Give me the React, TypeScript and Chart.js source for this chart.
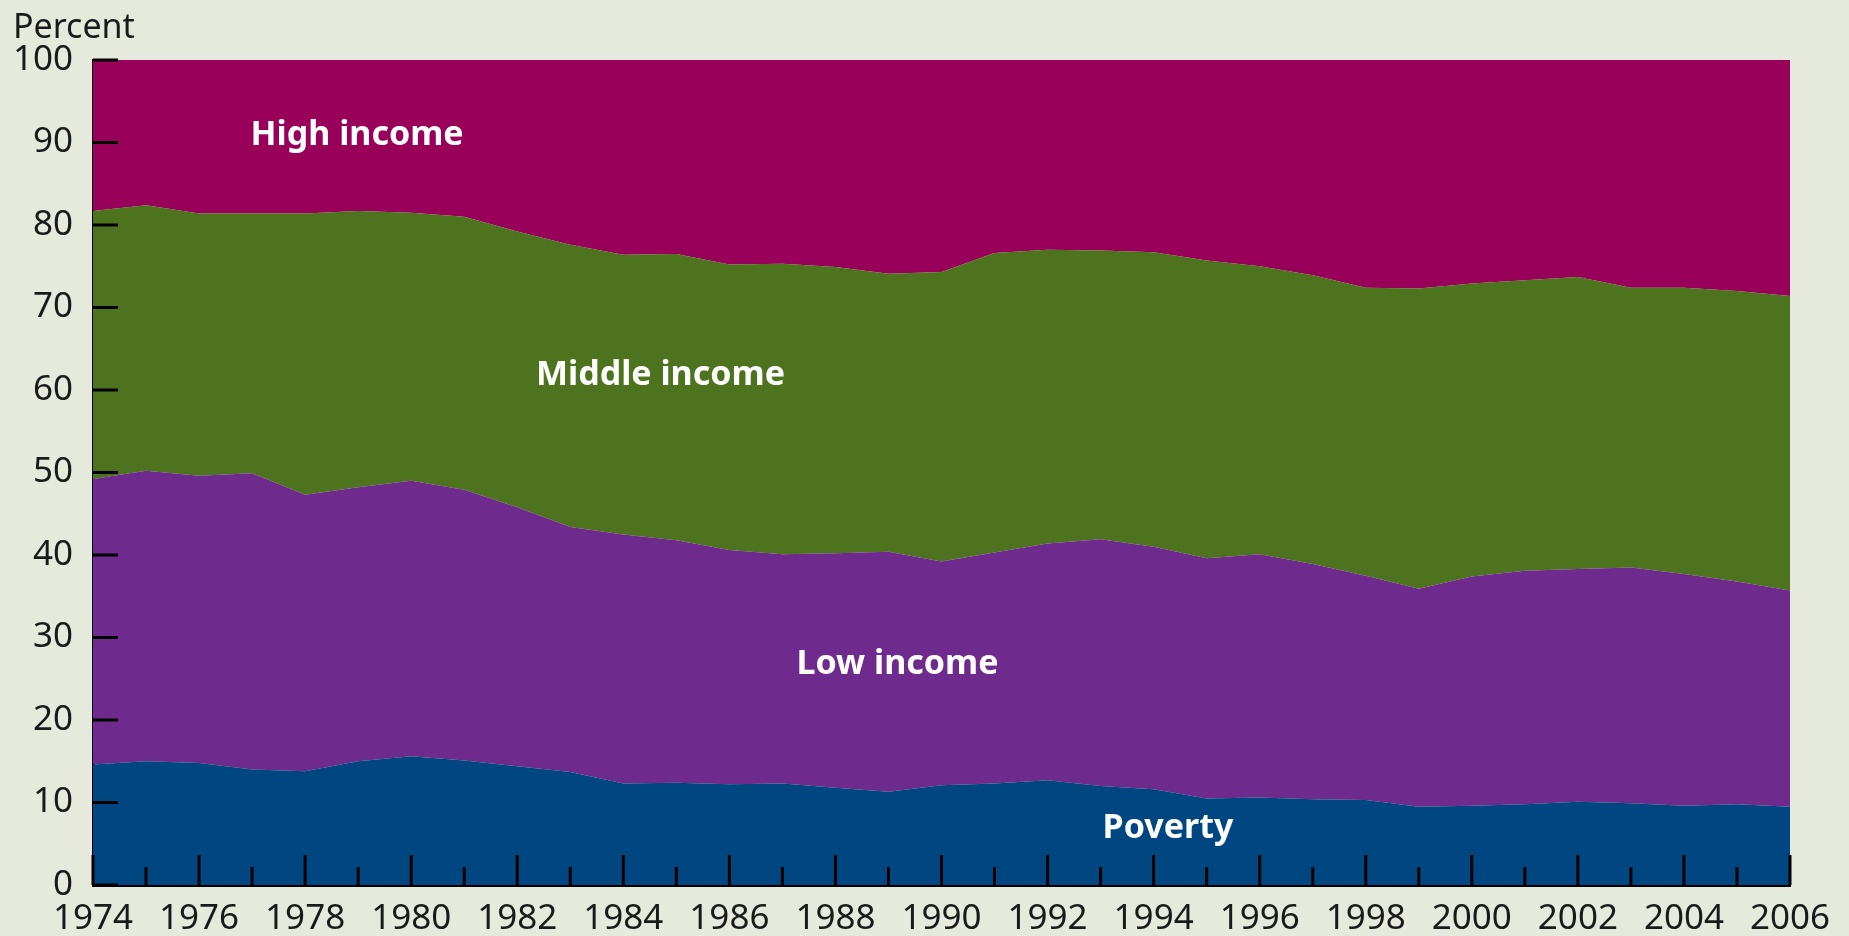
import React, { useEffect, useRef } from "react";
import { Chart, registerables } from "chart.js";

Chart.register(...registerables);

const years = [
  "1974", "1975", "1976", "1977", "1978", "1979", "1980", "1981", "1982", "1983",
  "1984", "1985", "1986", "1987", "1988", "1989", "1990", "1991", "1992", "1993",
  "1994", "1995", "1996", "1997", "1998", "1999", "2000", "2001", "2002", "2003",
  "2004", "2005", "2006",
];

// Share of population (percent) in each income group, by year
const poverty = [
  14.6, 15.0, 14.8, 14.0, 13.8, 15.0, 15.6, 15.1, 14.4, 13.7,
  12.3, 12.4, 12.2, 12.3, 11.8, 11.3, 12.1, 12.3, 12.7, 12.0,
  11.6, 10.5, 10.6, 10.4, 10.3, 9.5, 9.6, 9.8, 10.1, 9.9,
  9.6, 9.8, 9.5,
];
const lowIncome = [
  34.6, 35.2, 34.8, 35.9, 33.5, 33.2, 33.4, 32.8, 31.4, 29.7,
  30.2, 29.4, 28.4, 27.8, 28.4, 29.1, 27.1, 28.0, 28.7, 29.9,
  29.4, 29.1, 29.5, 28.5, 27.2, 26.4, 27.8, 28.3, 28.2, 28.6,
  28.1, 27.0, 26.2,
];
const middleIncome = [
  32.5, 32.2, 31.8, 31.5, 34.1, 33.5, 32.5, 33.1, 33.4, 34.2,
  33.9, 34.7, 34.6, 35.2, 34.7, 33.7, 35.1, 36.3, 35.6, 35.0,
  35.7, 36.1, 34.9, 35.0, 34.9, 36.4, 35.5, 35.2, 35.4, 33.9,
  34.7, 35.2, 35.7,
];
const highIncome = [
  18.3, 17.6, 18.6, 18.6, 18.6, 18.3, 18.5, 19.0, 20.8, 22.4,
  23.6, 23.5, 24.8, 24.7, 25.1, 25.9, 25.7, 23.4, 23.0, 23.1,
  23.3, 24.3, 25.0, 26.1, 27.6, 27.7, 27.1, 26.7, 26.3, 27.6,
  27.6, 28.0, 28.6,
];

const yTicks = [0, 10, 20, 30, 40, 50, 60, 70, 80, 90, 100];

const seriesNames = ["Poverty", "Low income", "Middle income", "High income"];
const seriesColors = ["#004680", "#6f2a8e", "#4d731e", "#990059"];

const FONT = "'Noto Sans', 'DejaVu Sans', sans-serif";

const overlayPlugin = {
  id: "overlay",
  afterDatasetsDraw(chart: any) {
    const { ctx, chartArea, scales } = chart;
    const x = scales.x;
    const y = scales.y;
    ctx.save();
    ctx.strokeStyle = "#000";
    ctx.lineWidth = 3;
    ctx.lineCap = "butt";
    // y ticks pointing into the plot
    yTicks.forEach((v) => {
      const py = y.getPixelForValue(v);
      ctx.beginPath();
      ctx.moveTo(chartArea.left, py);
      ctx.lineTo(chartArea.left + 25, py);
      ctx.stroke();
    });
    // x ticks pointing up, long for even years
    years.forEach((yr, i) => {
      const px = x.getPixelForValue(i);
      const len = Number(yr) % 2 === 0 ? 30 : 18;
      ctx.beginPath();
      ctx.moveTo(px, chartArea.bottom);
      ctx.lineTo(px, chartArea.bottom - len);
      ctx.stroke();
    });
    // series labels
    ctx.fillStyle = "#ffffff";
    ctx.font = `bold 34px ${FONT}`;
    ctx.textAlign = "center";
    ctx.textBaseline = "alphabetic";
    const labels: [string, number, number][] = [
      ["High income", 4.98, 89.7],
      ["Middle income", 10.7, 60.6],
      ["Low income", 15.17, 25.6],
      ["Poverty", 20.27, 5.7],
    ];
    labels.forEach(([t, xi, yv]) => {
      ctx.fillText(t, x.getPixelForValue(xi), y.getPixelForValue(yv));
    });
    // axis title
    ctx.fillStyle = "#1a1a1a";
    ctx.font = `34px ${FONT}`;
    ctx.textAlign = "left";
    ctx.fillText("Percent", 13, 38);
    ctx.restore();
  },
};

export default function App() {
  const ref = useRef<HTMLCanvasElement | null>(null);

  useEffect(() => {
    document.body.style.margin = "0";
    document.body.style.background = "#e6eadc";
    const canvas = ref.current;
    if (!canvas) return;
    const chart = new Chart(canvas, {
      type: "line",
      data: {
        labels: years,
        datasets: [poverty, lowIncome, middleIncome, highIncome].map((d, i) => ({
          label: seriesNames[i],
          data: d,
          backgroundColor: seriesColors[i],
          borderColor: seriesColors[i],
          borderWidth: 0,
          pointRadius: 0,
          tension: 0,
          fill: i === 0 ? "origin" : "-1",
        })),
      },
      options: {
        animation: false,
        responsive: false,
        devicePixelRatio: 1,
        layout: { padding: { top: 60, right: 59, left: 0, bottom: 0 } },
        plugins: {
          legend: { display: false },
          tooltip: { enabled: false },
        },
        scales: {
          x: {
            type: "category",
            offset: false,
            grid: { display: false, drawTicks: false },
            border: { display: true, color: "#000", width: 3 },
            ticks: {
              autoSkip: false,
              maxRotation: 0,
              padding: 13,
              color: "#1a1a1a",
              font: { family: FONT, size: 35 },
              callback: (_v: any, i: number) =>
                Number(years[i]) % 2 === 0 ? years[i] : "",
            },
            afterFit: (s: any) => {
              s.height = 51;
            },
          },
          y: {
            stacked: true,
            min: 0,
            max: 100,
            afterBuildTicks: (s: any) => {
              s.ticks = yTicks.map((v) => ({ value: v }));
            },
            grid: { display: false, drawTicks: false },
            border: { display: true, color: "#000", width: 3 },
            ticks: {
              padding: 20,
              color: "#1a1a1a",
              font: { family: FONT, size: 35 },
            },
            afterFit: (s: any) => {
              s.width = 93;
            },
          },
        },
      },
      plugins: [overlayPlugin],
    });
    return () => chart.destroy();
  }, []);

  return (
    <div style={{ width: 1849, height: 936, background: "#e6eadc" }}>
      <canvas ref={ref} width={1849} height={936} style={{ display: "block", width: 1849, height: 936 }} />
    </div>
  );
}
